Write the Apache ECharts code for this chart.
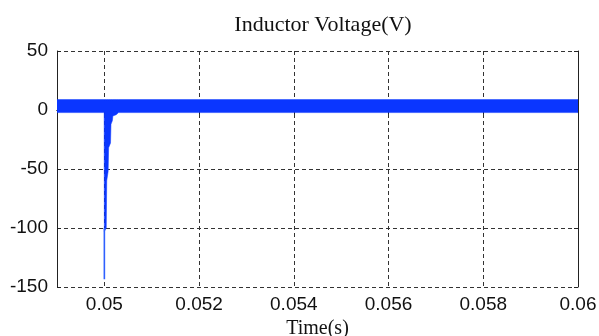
<!DOCTYPE html>
<html>
<head>
<meta charset="utf-8">
<script src="https://cdn.jsdelivr.net/npm/echarts@6/dist/echarts.min.js"></script>
<style>
  html, body { margin: 0; padding: 0; background: #fff; }
  #chart { width: 599px; height: 336px; }
</style>
</head>
<body>
<div id="chart"></div>
<script>
// ---- data ----
const xTickValues = [0.05, 0.052, 0.054, 0.056, 0.058, 0.06];
const yTickValues = [-150, -100, -50, 0, 50];

// envelope of the switching ripple band (upper / lower bound, V) at given times (s)
const bandTimes = [0.049, 0.049996, 0.05, 0.05004, 0.05005, 0.05008, 0.05009, 0.05013, 0.05014, 0.05017, 0.05018, 0.05025, 0.0503, 0.06];
const bandUpper = [8.8, 8.8, 8.8, 8.8, 8.8, 8.8, 8.8, 8.8, 8.8, 8.8, 8.8, 8.8, 8.8, 8.8];
const bandLower = [-2.2, -2.2, -103, -100, -60, -52, -32, -28, -12, -9, -5, -4, -2.2, -2.2];

// thin tip of the switching spike
const spikeTimes = [0.05, 0.05];
const spikeValues = [-100, -143.5];

// ---- chart ----
const chart = echarts.init(document.getElementById('chart'), null, { renderer: 'canvas' });

const labelFont = { fontFamily: 'Liberation Sans', fontSize: 19, color: '#111' };
const gridLine = { show: true, lineStyle: { color: '#333', type: [4, 3], width: 1 } };
const frameLine = { show: true, lineStyle: { color: '#222', width: 1 } };

chart.setOption({
  animation: false,
  backgroundColor: '#fff',
  title: {
    text: 'Inductor Voltage(V)',
    left: 318, textAlign: 'center', top: 9,
    textStyle: { fontFamily: 'Liberation Serif', fontSize: 22, fontWeight: 'normal', color: '#111' }
  },
  grid: { left: 57, right: 21, top: 51, bottom: 49, containLabel: false, outerBoundsMode: 'none' },
  xAxis: [
    {
      type: 'value', position: 'bottom', min: 0.049, max: 0.06, splitNumber: 5,
      axisLine: frameLine,
      axisTick: { show: true, inside: true, length: 4, customValues: xTickValues, lineStyle: { color: '#222' } },
      axisLabel: Object.assign({ customValues: xTickValues, margin: 8, formatter: v => String(+(+v).toFixed(3)) }, labelFont),
      splitLine: gridLine,
      name: 'Time(s)', nameLocation: 'middle', nameGap: 28,
      nameTextStyle: { fontFamily: 'Liberation Serif', fontSize: 20, color: '#111' }
    },
    {
      type: 'value', position: 'top', min: 0.049, max: 0.06,
      axisLine: frameLine,
      axisTick: { show: true, inside: true, length: 4, customValues: xTickValues, lineStyle: { color: '#222' } },
      axisLabel: { show: false }, splitLine: { show: false }
    }
  ],
  yAxis: [
    {
      type: 'value', position: 'left', min: -150, max: 50, interval: 50,
      axisLine: frameLine,
      axisTick: { show: true, inside: true, length: 4, lineStyle: { color: '#222' } },
      axisLabel: Object.assign({ margin: 9 }, labelFont),
      splitLine: gridLine
    },
    {
      type: 'value', position: 'right', min: -150, max: 50, interval: 50,
      axisLine: frameLine,
      axisTick: { show: true, inside: true, length: 4, lineStyle: { color: '#222' } },
      axisLabel: { show: false }, splitLine: { show: false }
    }
  ],
  series: [
    {
      type: 'custom',
      xAxisIndex: 0, yAxisIndex: 0,
      clip: true,
      data: [[bandTimes[0], bandUpper[0]]],
      renderItem: function (params, api) {
        const pts = [];
        for (let i = 0; i < bandTimes.length; i++) pts.push(api.coord([bandTimes[i], bandUpper[i]]));
        for (let i = bandTimes.length - 1; i >= 0; i--) pts.push(api.coord([bandTimes[i], bandLower[i]]));
        return { type: 'polygon', shape: { points: pts }, style: { fill: '#0a36ff', stroke: '#0a36ff', lineWidth: 0.5 } };
      },
      z: 3
    },
    {
      type: 'line',
      xAxisIndex: 0, yAxisIndex: 0,
      data: spikeTimes.map((t, i) => [t, spikeValues[i]]),
      showSymbol: false, symbol: 'none',
      lineStyle: { color: '#2f60ff', width: 1.6 },
      z: 3
    }
  ]
});
</script>
</body>
</html>
